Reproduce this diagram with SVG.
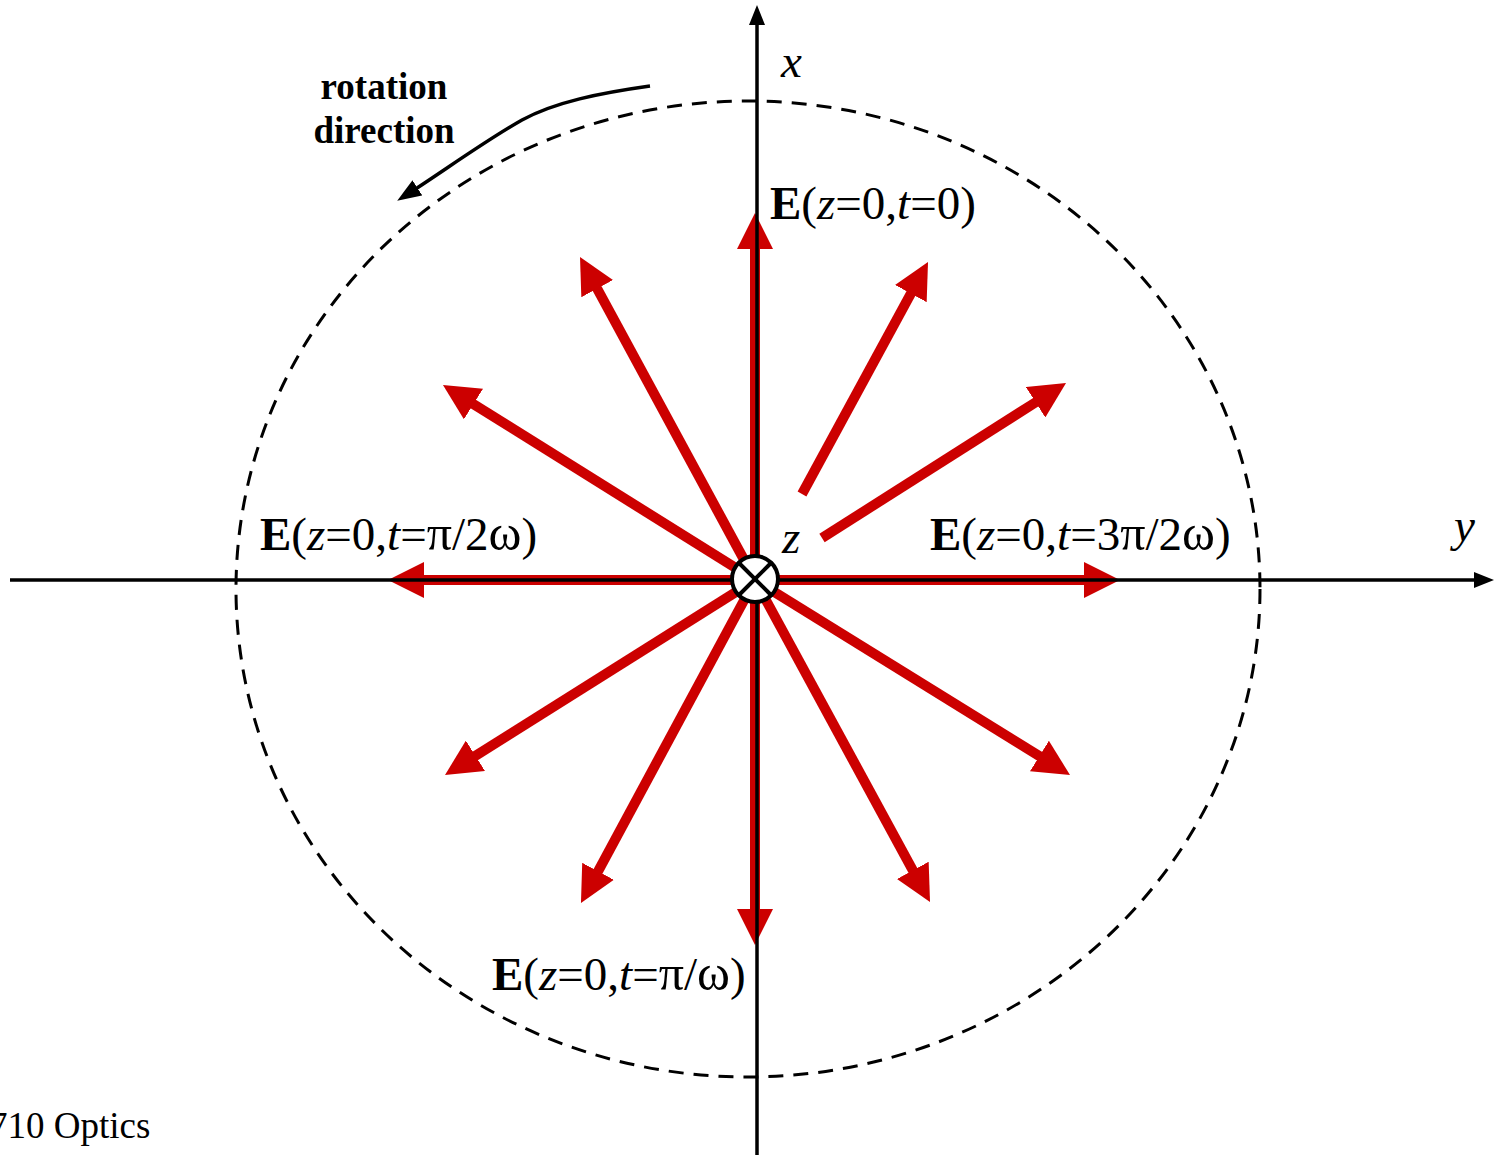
<svg xmlns="http://www.w3.org/2000/svg" width="1494" height="1155" viewBox="0 0 1494 1155">
<style>
  .red { stroke: #CC0000; stroke-width: 10; fill: none; marker-end: url(#redHead); }
  .axis { stroke: #000; stroke-width: 3.5; fill: none; }
  .lbl { font-family: "Liberation Serif", "Times New Roman", serif; font-size: 47px; fill: #000; }
  .g { font-size: 50px; }
  .b { font-weight: bold; }
  .i { font-style: italic; }
  .note { font-family: "Liberation Serif", "Times New Roman", serif; font-size: 37px; font-weight: bold; fill: #000; }
  .foot { font-family: "Liberation Serif", "Times New Roman", serif; font-size: 37px; fill: #000; }
</style>
<defs>
  <marker id="redHead" markerUnits="userSpaceOnUse" viewBox="0 0 36 36" markerWidth="36" markerHeight="36" refX="6" refY="18" orient="auto">
    <path d="M0,0 L36,18 L0,36 z" fill="#CC0000"/>
  </marker>
  <marker id="blackHead" markerUnits="userSpaceOnUse" viewBox="0 0 20 16" markerWidth="20" markerHeight="16" refX="4" refY="8" orient="auto">
    <path d="M0,0 L20,8 L0,16 z" fill="#000"/>
  </marker>
  <marker id="rotHead" markerUnits="userSpaceOnUse" viewBox="0 0 24 18" markerWidth="24" markerHeight="18" refX="4" refY="9" orient="auto">
    <path d="M0,0 L24,9 L0,18 z" fill="#000"/>
  </marker>
</defs>

<rect width="1494" height="1155" fill="#fff"/>

<g id="locus">
  <ellipse cx="748" cy="589" rx="512" ry="488" fill="none" stroke="#000" stroke-width="3" stroke-dasharray="15 10"/>
</g>

<g id="field-vectors">
  <line class="red" x1="755" y1="580" x2="755" y2="243"/>
  <line class="red" x1="755" y1="580" x2="755" y2="915"/>
  <line class="red" x1="755" y1="580" x2="418" y2="580"/>
  <line class="red" x1="755" y1="580" x2="1090" y2="580"/>
  <line class="red" x1="755" y1="580" x2="594.3" y2="283.4"/>
  <line class="red" x1="755" y1="580" x2="468.4" y2="400.9"/>
  <line class="red" x1="802" y1="494" x2="913.7" y2="288.3"/>
  <line class="red" x1="822" y1="538" x2="1040.7" y2="399.1"/>
  <line class="red" x1="755" y1="580" x2="1044.5" y2="759.2"/>
  <line class="red" x1="755" y1="580" x2="915.7" y2="875.6"/>
  <line class="red" x1="755" y1="580" x2="470.4" y2="759"/>
  <line class="red" x1="755" y1="580" x2="595.2" y2="876.6"/>
</g>

<g id="axes">
  <line class="axis" x1="757" y1="1155" x2="757" y2="21" marker-end="url(#blackHead)"/>
  <line class="axis" x1="10" y1="580" x2="1478" y2="580" marker-end="url(#blackHead)"/>
</g>

<g id="z-axis-symbol">
  <circle cx="755" cy="579" r="23" fill="#fff" stroke="#000" stroke-width="4"/>
  <line x1="739" y1="563" x2="771" y2="595" stroke="#000" stroke-width="4"/>
  <line x1="771" y1="563" x2="739" y2="595" stroke="#000" stroke-width="4"/>
</g>

<g id="rotation">
  <path d="M650,86 C600,93 555,102 522,120 C485,141 445,170 414,190" fill="none" stroke="#000" stroke-width="3.5" marker-end="url(#rotHead)"/>
  <text class="note" x="384" y="99" text-anchor="middle">rotation</text>
  <text class="note" x="384" y="143" text-anchor="middle">direction</text>
</g>

<g id="labels">
  <text class="lbl i" x="781" y="77">x</text>
  <text class="lbl i" x="1454" y="541">y</text>
  <text class="lbl i" x="782" y="553">z</text>
  <text class="lbl" x="770" y="219"><tspan class="b">E</tspan>(<tspan class="i">z</tspan>=0,<tspan class="i">t</tspan>=0)</text>
  <text class="lbl" x="260" y="550"><tspan class="b">E</tspan>(<tspan class="i">z</tspan>=0,<tspan class="i">t</tspan>=<tspan class="g">π</tspan>/2<tspan class="g">ω</tspan>)</text>
  <text class="lbl" x="930" y="550"><tspan class="b">E</tspan>(<tspan class="i">z</tspan>=0,<tspan class="i">t</tspan>=3<tspan class="g">π</tspan>/2<tspan class="g">ω</tspan>)</text>
  <text class="lbl" x="492" y="990"><tspan class="b">E</tspan>(<tspan class="i">z</tspan>=0,<tspan class="i">t</tspan>=<tspan class="g">π</tspan>/<tspan class="g">ω</tspan>)</text>
</g>

<g id="footer">
  <text class="foot" x="-11" y="1138">710 Optics</text>
</g>
</svg>
